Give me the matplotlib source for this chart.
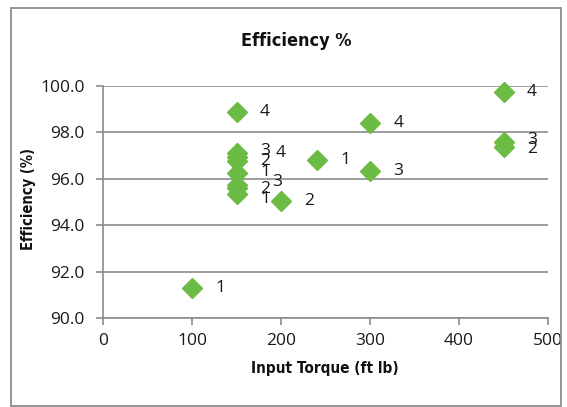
import matplotlib
matplotlib.use("Agg")
import matplotlib.pyplot as plt
from matplotlib.patches import Rectangle

torque = [100, 150, 150, 150, 150, 150, 150, 150, 150, 200, 240, 300, 300, 450, 450, 450]
efficiency = [91.3, 98.9, 97.1, 96.95, 96.75, 96.25, 95.75, 95.6, 95.35, 95.05, 96.8, 98.4, 96.35, 99.75, 97.6, 97.35]
labels = ['1', '4', '3', '4', '2', '1', '3', '2', '1', '2', '1', '4', '3', '4', '3', '2']
label_dx = [17, 17, 17, 28, 17, 17, 26, 17, 17, 17, 17, 17, 17, 17, 17, 17]
label_dy = [0, 0, 2, 3, 0, 1, 2, -1, -4, 0, 0, 0, 0, 0, 1, -1]

x_ticks = [0, 100, 200, 300, 400, 500]
y_ticks = [90.0, 92.0, 94.0, 96.0, 98.0, 100.0]

plt.rcParams['font.family'] = ['Open Sans', 'DejaVu Sans']

fig = plt.figure(figsize=(5.67, 4.07), dpi=100)
ax = fig.add_axes([103/567, 1-318/407, (548-103)/567, (318-86)/407])

gray = '#8c8c8c'
ax.set_xlim(0, 500)
ax.set_ylim(90, 100)
ax.set_yticks(y_ticks)
ax.set_xticks(x_ticks)
ax.set_yticklabels([f"{v:.1f}" for v in y_ticks])
ax.set_xticklabels([str(v) for v in x_ticks])
ax.grid(axis='y', color=gray, linewidth=1.2)
ax.set_axisbelow(True)
for s in ['top', 'right']:
    ax.spines[s].set_visible(False)
for s in ['left', 'bottom']:
    ax.spines[s].set_color(gray)
    ax.spines[s].set_linewidth(1.2)
ax.tick_params(axis='both', colors=gray, length=5, width=1.2, labelcolor='#1a1a1a', labelsize=12.5)
ax.tick_params(axis='y', pad=8)
ax.tick_params(axis='x', pad=6)

ax.plot(torque, efficiency, linestyle='none', marker='D', markersize=10,
        color='#6cbb45', markeredgecolor='#6cbb45', clip_on=False, zorder=3)

for x, y, t, dx, dy in zip(torque, efficiency, labels, label_dx, label_dy):
    ax.annotate(t, (x, y), xytext=(dx, dy), textcoords='offset points',
                ha='left', va='center', fontsize=12.5, color='#1a1a1a', zorder=4)

bold_fam = ['DejaVu Sans']
fig.text(296/567, 1-41/407, 'Efficiency %', ha='center', va='center',
         fontsize=13, fontweight='bold', fontstretch='condensed', family=bold_fam, color='#111111')
fig.text(325/567, 1-369/407, 'Input Torque (ft lb)', ha='center', va='center',
         fontsize=11, fontweight='bold', fontstretch='condensed', family=bold_fam, color='#111111')
fig.text(28/567, 1-199/407, 'Efficiency (%)', ha='center', va='center', rotation=90,
         fontsize=10.5, fontweight='bold', fontstretch='condensed', family=bold_fam, color='#111111')

fig.patches.append(Rectangle((11/567, 1-406/407), (561-11)/567, (406-8)/407,
                             transform=fig.transFigure, fill=False, edgecolor=gray, linewidth=1.3))

fig.savefig('out.png', dpi=100)
